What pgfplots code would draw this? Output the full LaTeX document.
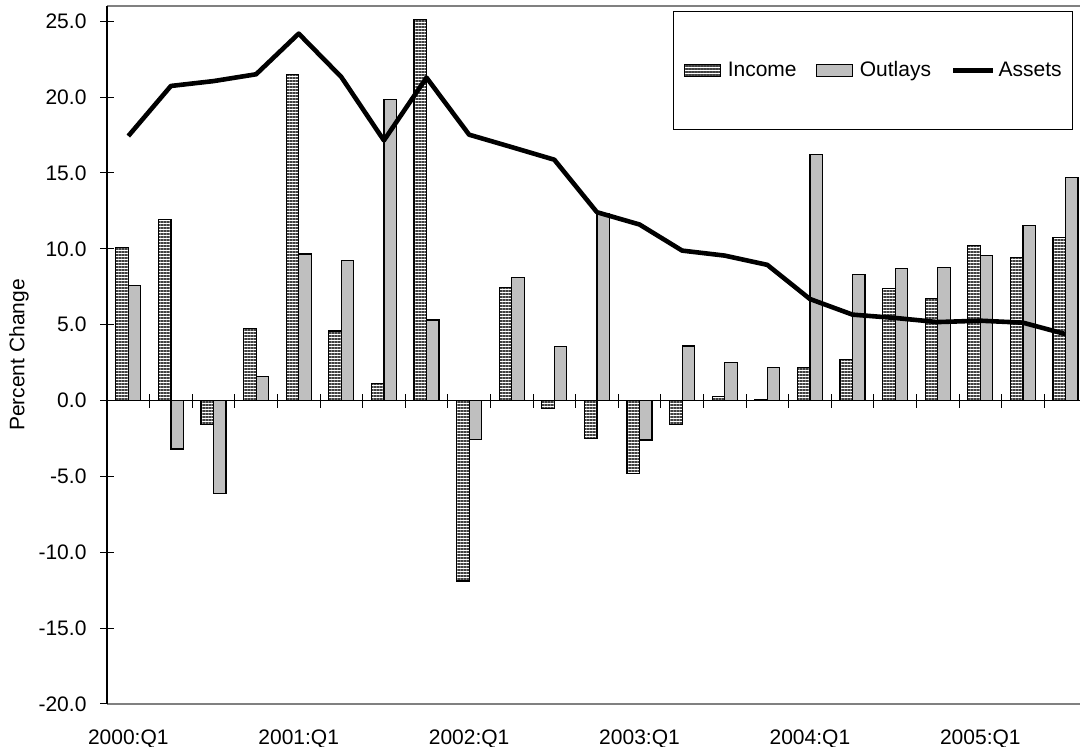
\documentclass[border=0pt]{standalone}
\usepackage{fontspec}
\setmainfont{Liberation Sans}
\usepackage{pgfplots}
\usepackage{pgfplotstable}
\pgfplotsset{compat=1.18}
\usetikzlibrary{patterns.meta}

\pgfplotstableread{
idx income outlays assets
0 10.1 7.57 17.43
1 11.93 -3.2 20.73
2 -1.6 -6.15 21.05
3 4.75 1.58 21.5
4 21.5 9.66 24.18
5 4.58 9.24 21.32
6 1.1 19.85 17.14
7 25.13 5.3 21.28
8 -11.9 -2.55 17.52
9 7.46 8.1 16.7
10 -0.5 3.54 15.87
11 -2.5 12.3 12.41
12 -4.8 -2.6 11.6
13 -1.6 3.59 9.88
14 0.26 2.49 9.55
15 0.05 2.18 8.94
16 2.18 16.2 6.69
17 2.7 8.32 5.66
18 7.4 8.72 5.44
19 6.71 8.74 5.17
20 10.19 9.57 5.26
21 9.44 11.55 5.13
22 10.72 14.7 4.38
}\datatable

\newcommand{\ffont}{\fontsize{10.5}{12.6}\selectfont}
\tikzset{
  incstyle/.style={draw=black, line width=0.6pt, fill=white,
    postaction={pattern={Lines[angle=0,distance=1.5pt,line width=0.85pt]}, pattern color=black!75}},
  outstyle/.style={draw=black, line width=0.6pt, fill=black!25},
}
\pgfplotsset{
  common/.style={
    scale only axis,
    width=486.5pt, height=349pt,
    at={(53.5pt,21.5pt)}, anchor=south west,
    xmin=-0.5, xmax=22.34,
    ymin=-20, ymax=26,
  },
}

\begin{document}
\begin{tikzpicture}
% zero line with cross ticks
\begin{axis}[common,
  axis x line*=middle, axis y line=none,
  xtick={0.5,1.5,...,21.5}, xticklabels={},
  ytick=\empty,
  tick align=center, major tick length=7pt,
  x axis line style={draw=black, line width=0.5pt},
  x tick style={draw=black, line width=0.5pt},
]
\addplot[draw=none, forget plot] coordinates {(0,0)};
\end{axis}
% main axis
\begin{axis}[common,
  axis x line*=box, axis y line*=left,
  separate axis lines,
  x axis line style={draw=black!50, line width=0.6pt},
  y axis line style={draw=black, line width=0.6pt},
  xtick={0,4,8,12,16,20},
  xticklabels={2000:Q1,2001:Q1,2002:Q1,2003:Q1,2004:Q1,2005:Q1},
  x tick style={draw=none},
  xticklabel style={font=\ffont, yshift=-6pt},
  ytick={-20,-15,...,25},
  y tick style={draw=black, line width=0.5pt},
  tick align=center, major tick length=6.5pt,
  /pgf/number format/assume math mode=true,
  yticklabel style={font=\ffont, xshift=-3.5pt, /pgf/number format/fixed, /pgf/number format/fixed zerofill, /pgf/number format/precision=1},
  ylabel={Percent Change},
  ylabel style={font=\ffont, at={(rel axis cs:-0.0904,0.5)}, anchor=center, rotate=0},
  legend columns=3,
  legend style={font=\ffont, at={(rel axis cs:0.5817,0.9928)}, anchor=north west,
    draw=black, line width=0.6pt, inner xsep=4pt, inner ysep=23.5pt,
    /tikz/column 2/.style={column sep=7pt},
    /tikz/column 4/.style={column sep=8.5pt},
    nodes={inner sep=1.5pt}},
]
\addplot[ybar, bar width=6.25pt, bar shift=-3.125pt, incstyle,
  legend image code/.code={\draw[incstyle] (1pt,-3pt) rectangle (19pt,3pt); \path (0pt,0pt) (21pt,0pt);}]
  table[x=idx, y=income] {\datatable};
\addlegendentry{Income}
\addplot[ybar, bar width=6.25pt, bar shift=3.125pt, outstyle,
  legend image code/.code={\draw[outstyle] (1pt,-3pt) rectangle (19pt,3pt); \path (0pt,0pt) (21pt,0pt);}]
  table[x=idx, y=outlays] {\datatable};
\addlegendentry{Outlays}
\addplot[sharp plot, black, line width=2.3pt, line join=round, mark=none,
  legend image code/.code={\draw[black, line width=2.3pt] (0pt,0pt) -- (20pt,0pt);}]
  table[x=idx, y=assets] {\datatable};
\addlegendentry[xshift=-2.5pt]{Assets}
\end{axis}
\pgfresetboundingbox
\path[use as bounding box] (0,0) rectangle (540pt,373.5pt);
\end{tikzpicture}
\end{document}
